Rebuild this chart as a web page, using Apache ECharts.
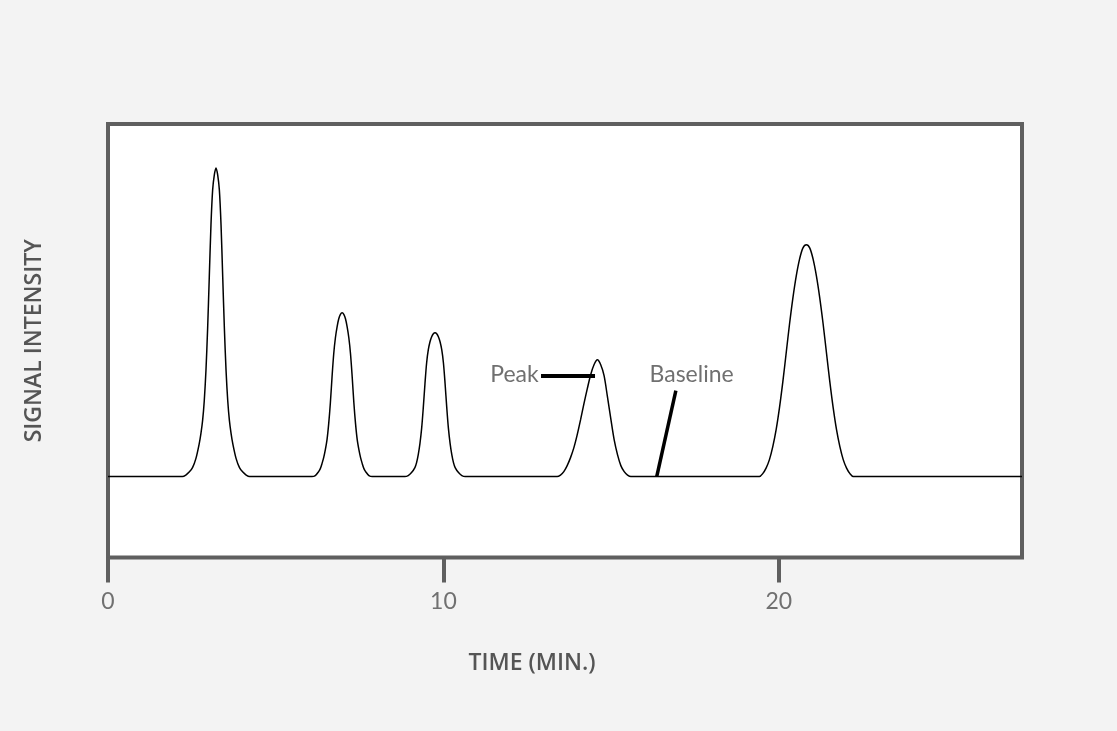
<!DOCTYPE html>
<html>
<head>
<meta charset="utf-8">
<script src="https://cdn.jsdelivr.net/npm/echarts@6/dist/echarts.min.js"></script>
<style>
    html, body { margin: 0; padding: 0; background: #f3f3f3; }
    #chart { width: 1117px; height: 731px; }
</style>
</head>
<body>
<div id="chart"></div>
<script>
// time (min) and signal, peak by peak
const baseStart = [[0, 0], [2.1, 0]];
const peak1 = [[2.22, 0], [2.32, 1.5], [2.42, 4.5], [2.52, 9], [2.62, 18], [2.72, 33], [2.77, 43], [2.82, 56], [2.87, 76], [2.92, 106],
    [2.97, 148], [3.02, 200], [3.07, 252], [3.12, 287], [3.17, 302], [3.22, 309], [3.27, 302], [3.32, 287], [3.37, 252],
    [3.42, 200], [3.47, 148], [3.52, 106], [3.57, 76], [3.62, 56], [3.67, 43], [3.72, 33], [3.82, 18], [3.92, 9],
    [4.02, 4.5], [4.12, 1.5], [4.22, 0]];
const peak2 = [[6.08, 0], [6.18, 1], [6.28, 5], [6.33, 8], [6.38, 13], [6.43, 19], [6.48, 27], [6.53, 37], [6.58, 53],
    [6.63, 74], [6.68, 100], [6.73, 123], [6.78, 139], [6.83, 150], [6.88, 158], [6.93, 162.5], [6.98, 164], [7.03, 162.5],
    [7.08, 158], [7.13, 150], [7.18, 139], [7.23, 123], [7.28, 100], [7.33, 74], [7.38, 53], [7.43, 37], [7.48, 27],
    [7.53, 19], [7.58, 13], [7.63, 8], [7.68, 5], [7.78, 1], [7.88, 0]];
const peak3 = [[8.85, 0], [8.95, 1], [9.05, 4], [9.15, 9], [9.20, 14], [9.25, 22], [9.30, 33], [9.35, 48], [9.40, 69],
    [9.45, 93], [9.50, 114], [9.55, 127], [9.60, 135], [9.65, 140], [9.70, 143], [9.75, 144], [9.80, 143], [9.85, 140],
    [9.90, 135], [9.95, 127], [10.00, 114], [10.05, 93], [10.10, 69], [10.15, 48], [10.20, 33], [10.25, 22],
    [10.30, 14], [10.35, 9], [10.45, 4], [10.55, 1], [10.65, 0]];
const peak4 = [[13.39, 0], [13.49, 1.5], [13.59, 5], [13.69, 11], [13.79, 19], [13.89, 29], [13.99, 42], [14.09, 57],
    [14.19, 73], [14.29, 88], [14.39, 102], [14.49, 112], [14.59, 117], [14.69, 112], [14.79, 101], [14.89, 80],
    [14.99, 58], [15.09, 37], [15.19, 22], [15.29, 11], [15.39, 5], [15.49, 1.5], [15.59, 0]];
const peak5 = [[19.42, 0], [19.52, 3], [19.62, 8.5], [19.72, 17], [19.82, 30], [19.92, 47], [20.02, 69], [20.12, 95],
    [20.22, 124], [20.32, 153], [20.42, 179], [20.52, 201], [20.62, 218], [20.72, 229], [20.82, 232], [20.92, 229],
    [21.02, 218], [21.12, 201], [21.22, 179], [21.32, 153], [21.42, 124], [21.52, 95], [21.62, 69], [21.72, 47],
    [21.82, 30], [21.92, 17], [22.02, 8.5], [22.12, 3], [22.22, 0]];
const baseEnd = [[22.35, 0], [27.25, 0]];

const xTicks = [0, 10, 20];

// callouts: [time, signal]
const peakPointer = [[12.91, 101], [14.52, 101]];
const baselinePointer = [[16.93, 86], [16.36, 0]];
const peakLabelAt = [12.84, 102];
const baselineLabelAt = [17.40, 102];

const trace = [].concat(baseStart, peak1, peak2, peak3, peak4, peak5, baseEnd);

const chart = echarts.init(document.getElementById('chart'));
chart.setOption({
    backgroundColor: '#f3f3f3',
    animation: false,
    grid: {
        left: 108,
        right: 95,
        top: 124,
        bottom: 173.5,
        show: true,
        backgroundColor: '#ffffff',
        borderColor: '#5f5f5f',
        borderWidth: 4
    },
    xAxis: {
        type: 'value',
        position: 'bottom',
        min: 0,
        max: 27.25,
        interval: 10,
        name: 'TIME (MIN.)',
        nameLocation: 'middle',
        nameGap: 94,
        nameTextStyle: {
            fontFamily: 'Open Sans',
            fontWeight: 600,
            fontSize: 23,
            color: '#555555',
            padding: [0, 66, 0, 0]
        },
        axisLine: { show: false, onZero: false },
        splitLine: { show: false },
        axisTick: {
            show: true,
            customValues: xTicks,
            length: 25,
            lineStyle: { color: '#5f5f5f', width: 4 }
        },
        axisLabel: {
            customValues: xTicks,
            margin: 33,
            fontFamily: 'Lato',
            fontSize: 23,
            color: '#707070'
        }
    },
    yAxis: {
        type: 'value',
        min: -81,
        max: 353,
        name: 'SIGNAL INTENSITY',
        nameLocation: 'middle',
        nameGap: 62,
        nameTextStyle: {
            fontFamily: 'Open Sans',
            fontWeight: 600,
            fontSize: 23,
            color: '#555555'
        },
        axisLine: { show: false },
        axisTick: { show: false },
        axisLabel: { show: false },
        splitLine: { show: false }
    },
    series: [
        {
            type: 'line',
            data: trace,
            smooth: 0.3,
            symbol: 'none',
            lineStyle: { color: '#000000', width: 1.5 },
            markLine: {
                silent: true,
                symbol: 'none',
                label: { show: false },
                lineStyle: { color: '#000000', type: 'solid' },
                data: [
                    [{ coord: peakPointer[0], lineStyle: { width: 4 } }, { coord: peakPointer[1] }],
                    [{ coord: baselinePointer[0], lineStyle: { width: 3.5 } }, { coord: baselinePointer[1] }]
                ]
            },
            markPoint: {
                silent: true,
                symbol: 'circle',
                symbolSize: 0,
                label: {
                    show: true,
                    fontFamily: 'Lato',
                    fontSize: 23,
                    color: '#707070'
                },
                data: [
                    { coord: peakLabelAt, label: { formatter: 'Peak', position: 'left', distance: 0 } },
                    { coord: baselineLabelAt, label: { formatter: 'Baseline', position: 'inside' } }
                ]
            }
        }
    ]
});
</script>
</body>
</html>
